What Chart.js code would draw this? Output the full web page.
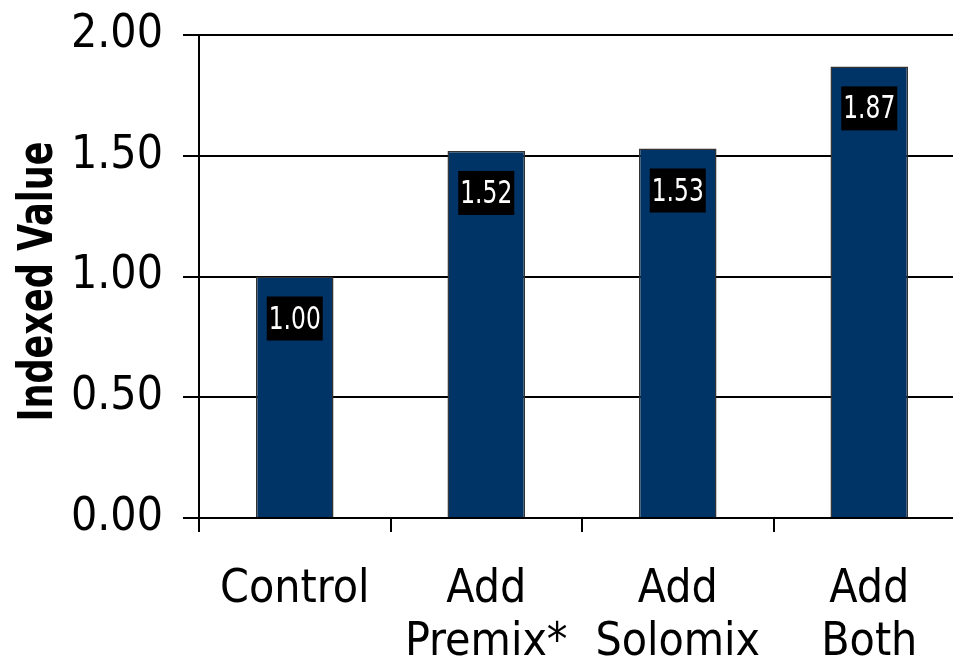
<!DOCTYPE html>
<html>
<head>
<meta charset="utf-8">
<script src="https://cdn.jsdelivr.net/npm/chart.js@4.4.1/dist/chart.umd.min.js"></script>
<style>
  html, body { margin: 0; padding: 0; background: #fff; overflow: hidden; }
  #wrap { position: absolute; left: 0; top: 0; width: 966px; height: 667px; }
</style>
</head>
<body>
<div id="wrap"><canvas id="chart"></canvas></div>
<script>
(function() {
    "use strict";

    var categories = [["Control"], ["Add", "Premix*"], ["Add", "Solomix"], ["Add", "Both"]];
    var values = [1.00, 1.52, 1.53, 1.87];
    var yTitle = "Indexed Value";

    var FONT = "'Liberation Sans Narrow', 'DejaVu Sans Condensed', 'Arial Narrow', sans-serif";

    // white-on-black value boxes inside each bar
    var valueBoxes = {
        id: "valueBoxes",
        afterDatasetsDraw: function(chart) {
            var ctx = chart.ctx;
            var meta = chart.getDatasetMeta(0);
            ctx.save();
            ctx.font = "32px " + FONT;
            ctx.textAlign = "center";
            ctx.textBaseline = "alphabetic";
            meta.data.forEach(function(bar, i) {
                var txt = values[i].toFixed(2);
                var tw = Math.min(ctx.measureText(txt).width, 52);
                var top = bar.y + 20;
                ctx.fillStyle = "#000";
                ctx.fillRect(bar.x - tw / 2 - 2, top, tw + 4, 44);
                ctx.fillStyle = "#fff";
                ctx.fillText(txt, bar.x, top + 32, 52);
            });
            ctx.restore();
        }
    };

    // rotated, condensed axis title on the left
    var axisTitle = {
        id: "axisTitle",
        afterDraw: function(chart) {
            var ctx = chart.ctx;
            var area = chart.chartArea;
            ctx.save();
            ctx.translate(52, (area.top + area.bottom) / 2 + 5);
            ctx.rotate(-Math.PI / 2);
            ctx.font = "bold 48px " + FONT;
            ctx.fillStyle = "#000";
            ctx.textAlign = "center";
            ctx.textBaseline = "alphabetic";
            ctx.fillText(yTitle, 0, 0, 280);
            ctx.restore();
        }
    };

    var ctx = document.getElementById("chart").getContext("2d");
    new Chart(ctx, {
        type: "bar",
        data: {
            labels: categories,
            datasets: [{
                data: values,
                backgroundColor: "#003366",
                borderColor: "#333333",
                borderWidth: 1.5,
                barPercentage: 0.405,
                categoryPercentage: 1.0
            }]
        },
        options: {
            responsive: true,
            maintainAspectRatio: false,
            animation: false,
            layout: { padding: { left: 0, top: 35, right: 1, bottom: 0 } },
            plugins: {
                legend: { display: false },
                tooltip: { enabled: false }
            },
            scales: {
                x: {
                    grid: {
                        offset: true,
                        drawOnChartArea: false,
                        color: "#000",
                        lineWidth: 2,
                        tickLength: 14
                    },
                    border: { display: true, color: "#000", width: 2 },
                    ticks: {
                        color: "#000",
                        padding: 32,
                        font: { family: FONT, size: 46, lineHeight: 1.15 },
                        maxRotation: 0,
                        autoSkip: false
                    },
                    afterFit: function(scale) {
                        scale.height = 149;
                        scale.paddingLeft = 0;
                        scale.paddingRight = 0;
                    }
                },
                y: {
                    min: 0,
                    max: 2,
                    grid: {
                        color: "#000",
                        lineWidth: 2,
                        tickLength: 16
                    },
                    border: { display: true, color: "#000", width: 2 },
                    ticks: {
                        stepSize: 0.5,
                        color: "#000",
                        padding: 20,
                        font: { family: FONT, size: 46 },
                        callback: function(v) { return v.toFixed(2); }
                    },
                    afterFit: function(scale) {
                        scale.width = 199;
                        scale.paddingTop = 0;
                        scale.paddingBottom = 0;
                    }
                }
            }
        },
        plugins: [valueBoxes, axisTitle]
    });
})();
</script>
</body>
</html>
